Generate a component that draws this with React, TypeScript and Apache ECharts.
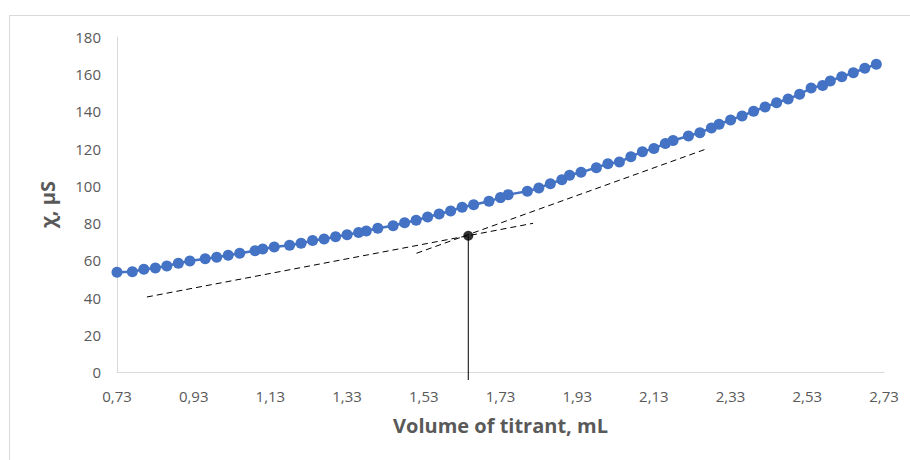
import React, { useEffect, useRef } from "react";
import * as echarts from "echarts";

const volumes = [
  0.73, 0.77, 0.8, 0.83, 0.86, 0.89, 0.92, 0.96, 0.99, 1.02, 1.05, 1.09, 1.11, 1.14, 1.18, 1.21,
  1.24, 1.27, 1.3, 1.33, 1.36, 1.38, 1.41, 1.45, 1.48, 1.51, 1.54, 1.57, 1.6, 1.63, 1.66, 1.7,
  1.73, 1.75, 1.8, 1.83, 1.86, 1.89, 1.91, 1.94, 1.98, 2.01, 2.04, 2.07, 2.1, 2.13, 2.16, 2.18,
  2.22, 2.25, 2.28, 2.3, 2.33, 2.36, 2.39, 2.42, 2.45, 2.48, 2.51, 2.54, 2.57, 2.59, 2.62, 2.65,
  2.68, 2.71,
];
const conductivity = [
  53.6, 53.9, 55.2, 55.9, 57.0, 58.4, 59.6, 60.9, 61.6, 62.7, 63.8, 65.2, 66.1, 67.2, 68.1, 69.2,
  70.6, 71.5, 72.7, 73.8, 74.9, 75.8, 77.2, 78.6, 80.2, 81.5, 83.3, 84.9, 86.5, 88.5, 89.9, 91.7,
  93.7, 95.3, 97.1, 98.9, 101.2, 103.3, 105.7, 107.3, 109.8, 111.9, 112.8, 115.7, 118.4, 120.1,
  122.8, 124.4, 126.8, 128.6, 131.1, 133.1, 135.4, 137.6, 140.1, 142.4, 144.7, 146.7, 149.2,
  152.6, 154.0, 156.4, 158.7, 160.8, 163.2, 165.3,
];

// tangent lines [x, y]
const tangentLow = [
  [0.808, 40.3],
  [1.815, 79.9],
];
const tangentHigh = [
  [1.511, 63.8],
  [2.266, 119.8],
];
const equivalencePoint = [1.646, 73.2];
const dropLineBottom = -4.3;

const xStart = 0.73;
const xEnd = 2.73;
const xStep = 0.2;
const yTicks = [0, 20, 40, 60, 80, 100, 120, 140, 160, 180];

const FONT = "'Open Sans', 'Liberation Sans', sans-serif";

export default function App() {
  const ref = useRef<HTMLDivElement>(null);
  useEffect(() => {
    if (!ref.current) return;
    const chart = echarts.init(ref.current, null, { renderer: "svg" });
    const sx = (v: number) => +(v - xStart).toFixed(4);
    const dashStyle = { color: "#000", width: 1, type: [6, 4] as any };
    chart.setOption({
      animation: false,
      backgroundColor: "#fff",
      grid: { left: 117, right: 26, top: 37, bottom: 88 },
      graphic: [
        {
          type: "rect",
          shape: { x: 9.5, y: 15.5, width: 1000, height: 1000 },
          style: { fill: "none", stroke: "#d9d9d9", lineWidth: 1 },
          silent: true,
          z: -10,
        },
      ],
      xAxis: {
        type: "value",
        min: 0,
        max: +(xEnd - xStart).toFixed(2),
        interval: xStep,
        name: "Volume of titrant, mL",
        nameLocation: "middle",
        nameGap: 43,
        nameTextStyle: { fontFamily: FONT, fontSize: 20, fontWeight: "bold", color: "#595959" },
        axisLine: { show: true, lineStyle: { color: "#d9d9d9", width: 1 } },
        axisTick: { show: false },
        splitLine: { show: false },
        axisLabel: {
          fontFamily: FONT,
          fontSize: 15,
          color: "#595959",
          margin: 16,
          formatter: (v: number) => (v + xStart).toFixed(2).replace(".", ","),
        },
      },
      yAxis: {
        type: "value",
        min: yTicks[0],
        max: yTicks[yTicks.length - 1],
        interval: 20,
        name: "χ, µS",
        nameLocation: "middle",
        nameGap: 60,
        nameTextStyle: { fontFamily: FONT, fontSize: 20, fontWeight: "bold", color: "#595959" },
        axisLine: { show: true, lineStyle: { color: "#d9d9d9", width: 1 } },
        axisTick: { show: false },
        splitLine: { show: false },
        axisLabel: { fontFamily: FONT, fontSize: 15, color: "#595959", margin: 16 },
      },
      series: [
        {
          type: "line",
          data: tangentLow.map((p) => [sx(p[0]), p[1]]),
          symbol: "none",
          lineStyle: dashStyle,
          z: 3,
        },
        {
          type: "line",
          data: tangentHigh.map((p) => [sx(p[0]), p[1]]),
          symbol: "none",
          lineStyle: dashStyle,
          z: 3,
        },
        {
          type: "line",
          clip: false,
          data: [
            [sx(equivalencePoint[0]), equivalencePoint[1]],
            [sx(equivalencePoint[0]), dropLineBottom],
          ],
          symbol: "none",
          lineStyle: { color: "#000", width: 1 },
          z: 3,
        },
        {
          type: "scatter",
          data: [[sx(equivalencePoint[0]), equivalencePoint[1]]],
          symbolSize: 10,
          itemStyle: { color: "#000" },
          z: 5,
        },
        {
          type: "line",
          data: volumes.map((v, i) => [sx(v), conductivity[i]]),
          symbol: "circle",
          symbolSize: 11,
          showSymbol: true,
          lineStyle: { color: "#4472C4", width: 2.5 },
          itemStyle: { color: "#4472C4", borderWidth: 0 },
          z: 4,
        },
      ],
    });
    return () => chart.dispose();
  }, []);
  return (
    <div
      ref={ref}
      style={{ position: "fixed", left: 0, top: 0, width: 910, height: 460 }}
    />
  );
}
